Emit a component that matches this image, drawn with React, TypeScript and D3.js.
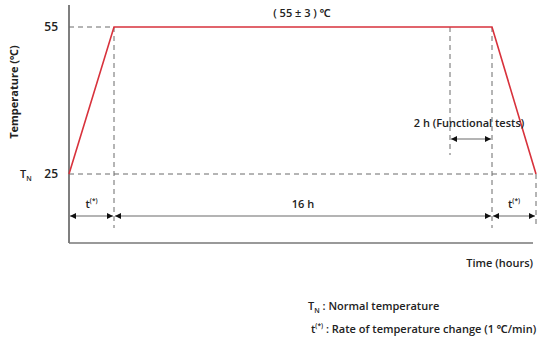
import React from "react";
import * as d3 from "d3";

// time breakpoints (hours): ramp up, soak, functional test start, end of soak, ramp down
const timeBreaks = [0, 0.5, 14.5, 16.5, 17];
const profileTime = [0, 0.5, 16.5, 17];
const profileTemp = [25, 55, 55, 25];
const tempTicks = [25, 55];
const spans = [
  { from: 0, to: 0.5, label: "t", sup: "(*)" },
  { from: 0.5, to: 16.5, label: "16   h", sup: "" },
  { from: 16.5, to: 17, label: "t", sup: "(*)" },
];
const testSpan = { from: 14.5, to: 16.5, label: "2 h (Functional tests)" };
const soakLabel = "( 55 ± 3 ) ℃";

const W = 551;
const H = 340;
const FONT = "'Open Sans', 'Noto Sans', sans-serif";

const App = () => {
  const x = d3.scaleLinear().domain(timeBreaks).range([69, 114, 450, 492, 536]);
  const y = d3.scaleLinear().domain([25, 55]).range([174, 27]);
  const axisBottom = 243;
  const axisTop = 5;
  const arrowY = 216;

  const line = d3
    .line<number>()
    .x((_, i) => x(profileTime[i]))
    .y((d) => y(d));

  const dash = "5,4";
  const grey = "#6b6b6b";

  return (
    <svg
      width={W}
      height={H}
      style={{ position: "absolute", left: 0, top: 0, background: "#fff", whiteSpace: "pre" }}
      fontFamily={FONT}
    >
      <defs>
        <marker id="ah" viewBox="0 0 10 10" refX="10" refY="5" markerWidth="6" markerHeight="6" orient="auto-start-reverse" markerUnits="userSpaceOnUse">
          <path d="M0,0 L10,5 L0,10 z" fill="#111" />
        </marker>
      </defs>

      {/* axes */}
      <line x1={x(0)} x2={x(0)} y1={axisTop} y2={axisBottom} stroke="#555" strokeWidth={1.5} />
      <line x1={x(0)} x2={533} y1={axisBottom} y2={axisBottom} stroke="#777" strokeWidth={1.5} />

      {/* reference dashes */}
      <line x1={x(0)} x2={x(0.5)} y1={y(55)} y2={y(55)} stroke={grey} strokeDasharray={dash} />
      <line x1={x(0)} x2={x(17)} y1={y(25)} y2={y(25)} stroke={grey} strokeDasharray={dash} />
      <line x1={x(0.5)} x2={x(0.5)} y1={y(55)} y2={228} stroke={grey} strokeDasharray={dash} />
      <line x1={x(16.5)} x2={x(16.5)} y1={y(55)} y2={228} stroke={grey} strokeDasharray={dash} />
      <line x1={x(14.5)} x2={x(14.5)} y1={y(55)} y2={155} stroke={grey} strokeDasharray={dash} />
      <line x1={x(17)} x2={x(17)} y1={y(25)} y2={228} stroke={grey} strokeDasharray={dash} />

      {/* temperature profile */}
      <path d={line(profileTemp) ?? ""} fill="none" stroke="#d8323c" strokeWidth={1.6} />

      {/* y ticks */}
      {tempTicks.map((t) => (
        <text key={t} x={58} y={y(t)} dy="0.35em" textAnchor="end" fontSize={12} fontWeight={600} fill="#222">
          {t}
        </text>
      ))}
      <text x={20} y={y(25)} dy="0.35em" fontSize={11} fontWeight={600} fill="#222">
        T<tspan fontSize={7} dy="3">N</tspan>
      </text>

      <text
        transform={`translate(18,92) rotate(-90)`}
        textAnchor="middle"
        fontSize={11}
        fontWeight={700}
        fill="#222"
      >
        Temperature  (℃)
      </text>

      <text x={302} y={y(55) - 10} textAnchor="middle" fontSize={11} fontWeight={600} fill="#222">
        {soakLabel}
      </text>

      {/* duration arrows */}
      {spans.map((s, i) => (
        <g key={i}>
          <line
            x1={x(s.from) + 1}
            x2={x(s.to) - 1}
            y1={arrowY}
            y2={arrowY}
            stroke={grey}
            strokeWidth={1.2}
            markerStart="url(#ah)"
            markerEnd="url(#ah)"
          />
          <text x={(x(s.from) + x(s.to)) / 2} y={arrowY - 8} textAnchor="middle" fontSize={11} fontWeight={600} fill="#222">
            {s.label}
            {s.sup && <tspan fontSize={6.5} dy="-5">{s.sup}</tspan>}
          </text>
        </g>
      ))}

      <line
        x1={x(testSpan.from) + 1}
        x2={x(testSpan.to) - 1}
        y1={139}
        y2={139}
        stroke={grey}
        strokeWidth={1.2}
        markerStart="url(#ah)"
        markerEnd="url(#ah)"
      />
      <text x={469} y={127} textAnchor="middle" fontSize={11} fontWeight={600} fill="#222">
        {testSpan.label}
      </text>

      <text x={533} y={267} textAnchor="end" fontSize={11} fontWeight={600} fill="#222">
        Time (hours)
      </text>

      {/* notes */}
      <text x={308} y={310} fontSize={11} fontWeight={600} fill="#222">
        T<tspan fontSize={7} dy="3">N</tspan>
        <tspan dy="-3"> : Normal  temperature</tspan>
      </text>
      <text x={311} y={333} fontSize={11} fontWeight={600} fill="#222">
        t<tspan fontSize={6.5} dy="-5">(*)</tspan>
        <tspan dy="5"> : Rate of temperature  change (1 ℃/min)</tspan>
      </text>
    </svg>
  );
};

export default App;
